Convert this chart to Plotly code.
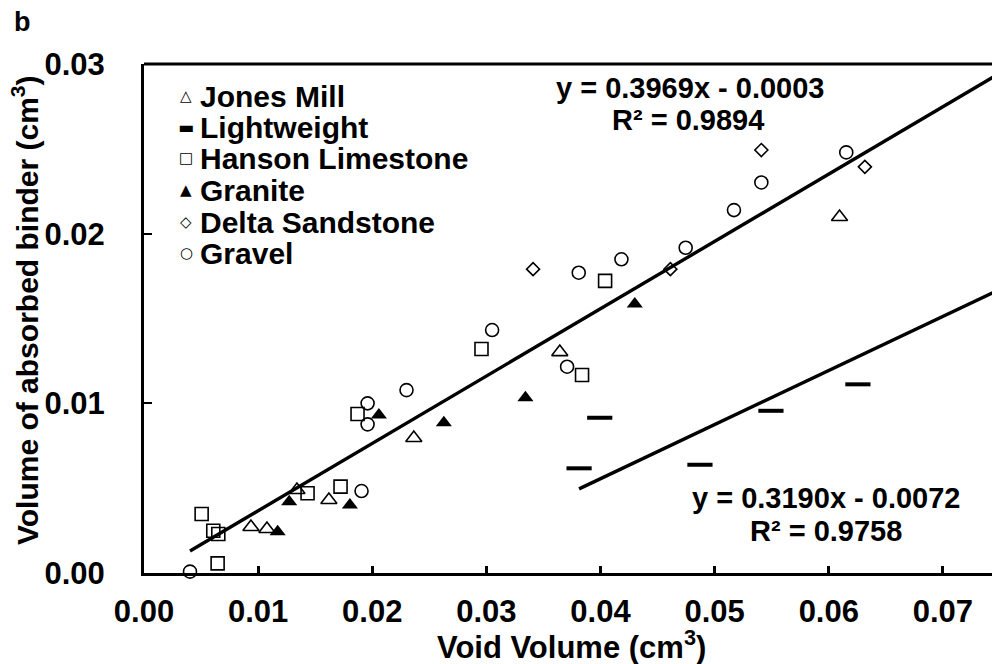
import plotly.graph_objects as go

# ---------------- data ----------------
jones_x = [0.00937, 0.01077, 0.01340, 0.01620, 0.02364, 0.03643, 0.06094]
jones_y = [0.00271, 0.00259, 0.00489, 0.00430, 0.00796, 0.01302, 0.02098]

light_x = [0.03812, 0.03993, 0.04871, 0.05493, 0.06255]
light_y = [0.00617, 0.00915, 0.00638, 0.00956, 0.01112]

hanson_x = [0.00505, 0.00607, 0.00651, 0.00645, 0.01433, 0.01722, 0.01871, 0.02957, 0.03838, 0.04040]
hanson_y = [0.00348, 0.00249, 0.00230, 0.00057, 0.00470, 0.00509, 0.00937, 0.01320, 0.01167, 0.01722]

granite_x = [0.01171, 0.01272, 0.01804, 0.02058, 0.02627, 0.03342, 0.04300]
granite_y = [0.00243, 0.00420, 0.00401, 0.00931, 0.00886, 0.01033, 0.01585]

delta_x = [0.03409, 0.04612, 0.05409, 0.06316]
delta_y = [0.01791, 0.01791, 0.02493, 0.02394]

gravel_x = [0.00403, 0.01906, 0.01959, 0.01959, 0.02300, 0.03050, 0.03707, 0.03809,
            0.04183, 0.04746, 0.05169, 0.05409, 0.06153]
gravel_y = [0.00008, 0.00483, 0.01000, 0.00876, 0.01078, 0.01432, 0.01216, 0.01770,
            0.01849, 0.01917, 0.02139, 0.02302, 0.02479]

# trendline coefficients (from the equations printed on the chart)
main_slope, main_intercept = 0.3969, -0.0003
lw_slope, lw_intercept = 0.3190, -0.0072

x_range = [0, 0.075]
y_range = [0, 0.03]
x_ticks = [0.00, 0.01, 0.02, 0.03, 0.04, 0.05, 0.06, 0.07]
y_ticks = [0.00, 0.01, 0.02, 0.03]

series = [
    ("Jones Mill", jones_x, jones_y, dict(symbol="triangle-up-open", size=14, color="black", line=dict(width=1.6, color="black")), "△"),
    ("Lightweight", light_x, light_y, dict(symbol="line-ew-open", size=18, color="black", line=dict(width=4, color="black")), "▬"),
    ("Hanson Limestone", hanson_x, hanson_y, dict(symbol="square-open", size=13, color="black", line=dict(width=1.6, color="black")), "□"),
    ("Granite", granite_x, granite_y, dict(symbol="triangle-up", size=14, color="black", line=dict(width=0, color="black")), "▲"),
    ("Delta Sandstone", delta_x, delta_y, dict(symbol="diamond-open", size=10, color="black", line=dict(width=1.6, color="black")), "◇"),
    ("Gravel", gravel_x, gravel_y, dict(symbol="circle-open", size=13, color="black", line=dict(width=1.6, color="black")), "○"),
]

fig = go.Figure()

# trendlines
all_x = jones_x + hanson_x + granite_x + delta_x + gravel_x
mx0 = min(all_x)
mx1 = x_range[1] + 0.002
fig.add_trace(go.Scatter(x=[mx0, mx1], y=[main_slope * mx0 + main_intercept, main_slope * mx1 + main_intercept],
                         mode="lines", line=dict(color="black", width=3.4), showlegend=False, hoverinfo="skip"))
lx0 = min(light_x)
fig.add_trace(go.Scatter(x=[lx0, mx1], y=[lw_slope * lx0 + lw_intercept, lw_slope * mx1 + lw_intercept],
                         mode="lines", line=dict(color="black", width=3.4), showlegend=False, hoverinfo="skip"))

for name, xs, ys, mk, _ in series:
    fig.add_trace(go.Scatter(x=xs, y=ys, mode="markers", name=name, marker=mk, showlegend=False, cliponaxis=False))

# page has an 8px body margin; plot area target in screenshot pixels
OFF = 8
L, T, W, H = 144, 64, 856, 509
FW, FH = 1000 - OFF, 664 - OFF


def px(xp):
    return (xp - L) / W


def py(yp):
    return (T + H - yp) / H


font_fam = "Liberation Sans, Arial, sans-serif"
ann = []
legend_rows = [96, 127, 158, 190, 222, 253]
for (name, _, _, _, glyph), yr in zip(series, legend_rows):
    ann.append(dict(x=px(186), y=py(yr), xref="paper", yref="paper", text=glyph, showarrow=False,
                    xanchor="center", yanchor="middle",
                    font=dict(family="DejaVu Sans", size=15 if glyph != "▬" else 17, color="black")))
    ann.append(dict(x=px(198), y=py(yr), xref="paper", yref="paper", text=name, showarrow=False,
                    xanchor="left", yanchor="middle",
                    font=dict(family=font_fam, size=30, color="black", weight="bold")))

eqs = [
    ("y = 0.3969x - 0.0003", 690, 88),
    ("R² = 0.9894", 688, 120),
    ("y = 0.3190x - 0.0072", 826, 498),
    ("R² = 0.9758", 826, 531),
]
for t, xx, yy in eqs:
    ann.append(dict(x=px(xx), y=py(yy), xref="paper", yref="paper", text=t, showarrow=False,
                    xanchor="center", yanchor="middle",
                    font=dict(family=font_fam, size=29, color="black", weight="bold")))

ann.append(dict(x=px(22), y=py(22), xref="paper", yref="paper", text="b", showarrow=False,
                xanchor="center", yanchor="middle",
                font=dict(family=font_fam, size=27, color="black", weight="bold")))

# axis titles
ann.append(dict(x=px(571), y=py(645), xref="paper", yref="paper", text="Void Volume (cm<sup>3</sup>)",
                showarrow=False, xanchor="center", yanchor="middle",
                font=dict(family=font_fam, size=31, color="black", weight="bold")))
ann.append(dict(x=px(25), y=py(310), xref="paper", yref="paper", text="Volume of absorbed binder (cm<sup>3</sup>)",
                showarrow=False, xanchor="center", yanchor="middle", textangle=-90,
                font=dict(family=font_fam, size=30, color="black", weight="bold")))

fig.update_layout(
    width=FW, height=FH,
    margin=dict(l=L - OFF, r=FW - (L - OFF) - W, t=T - OFF, b=FH - (T - OFF) - H, pad=0, autoexpand=False),
    paper_bgcolor="white", plot_bgcolor="white",
    font=dict(family=font_fam, size=31, color="black", weight="bold"),
    annotations=ann,
    shapes=[dict(type="line", xref="paper", yref="paper", x0=0, x1=1.01, y0=1, y1=1,
                 line=dict(color="black", width=3))],
    showlegend=False,
)
fig.update_xaxes(
    range=x_range, tickvals=x_ticks, tickformat=".2f",
    showgrid=False, zeroline=False, showline=True, linecolor="black", linewidth=3,
    ticks="inside", ticklen=7, tickwidth=3, tickcolor="black",
    ticklabelstandoff=9,
    tickfont=dict(family=font_fam, size=31, color="black", weight="bold"),
)
fig.update_yaxes(
    range=y_range, tickvals=y_ticks, tickformat=".2f",
    showgrid=False, zeroline=False, showline=True, linecolor="black", linewidth=3,
    ticks="inside", ticklen=8, tickwidth=1.5, tickcolor="black",
    ticklabelstandoff=30,
    tickfont=dict(family=font_fam, size=31, color="black", weight="bold"),
)

fig.write_html("out.html")
